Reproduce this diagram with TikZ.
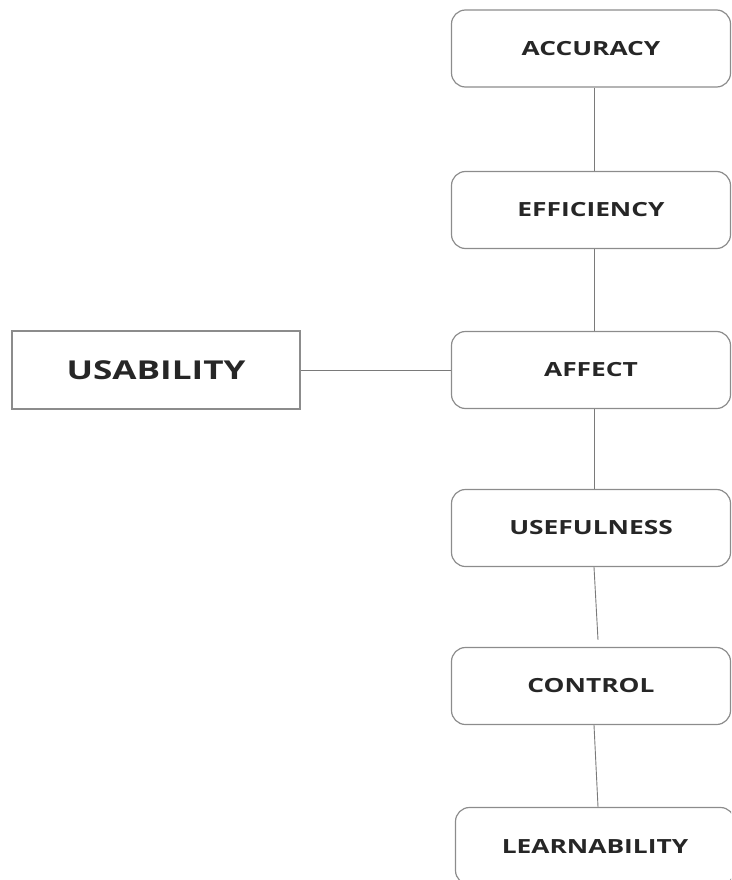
\documentclass[tikz,border=0pt]{standalone}
\usepackage{fontspec}
\setmainfont[FakeStretch=1.35]{Open Sans}

\definecolor{boxline}{HTML}{8C8C8C}
\definecolor{linkline}{HTML}{7A7A7A}
\definecolor{labeltext}{HTML}{262626}

\begin{document}
\begin{tikzpicture}[x=1pt, y=-1pt,
    item/.style={draw=boxline, line width=1.2pt, rounded corners=14pt,
        minimum width=279pt, minimum height=77pt, inner sep=0pt,
        text=labeltext, font=\bfseries\fontsize{19.5}{21}\selectfont},
    root/.style={draw=boxline, line width=1.4pt,
        minimum width=288pt, minimum height=78pt, inner sep=0pt,
        text=labeltext, font=\bfseries\fontsize{26}{29}\selectfont},
    link/.style={draw=linkline, line width=0.9pt}]
    \useasboundingbox (0,0) rectangle (731,880);
    \clip (0,0) rectangle (731,880);

    \node[root] (usab) at (156,370) {USABILITY};

    \node[item] (acc) at (591,48.5) {ACCURACY};
    \node[item] (eff) at (591,210)  {EFFICIENCY};
    \node[item] (aff) at (591,370)  {AFFECT};
    \node[item] (use) at (591,528)  {USEFULNESS};
    \node[item] (ctl) at (591,686)  {CONTROL};
    \node[item] (lrn) at (595,846)  {LEARNABILITY};

    \draw[link] (usab.east) -- (aff.west);
    \draw[link] ([xshift=3pt]acc.south) -- ([xshift=3pt]eff.north);
    \draw[link] ([xshift=3pt]eff.south) -- ([xshift=3pt]aff.north);
    \draw[link] ([xshift=3pt]aff.south) -- ([xshift=3pt]use.north);
    \draw[link] ([xshift=3pt]use.south) -- ([xshift=7pt,yshift=7pt]ctl.north);
    \draw[link] ([xshift=3pt]ctl.south) -- ([xshift=3pt]lrn.north);
\end{tikzpicture}
\end{document}
